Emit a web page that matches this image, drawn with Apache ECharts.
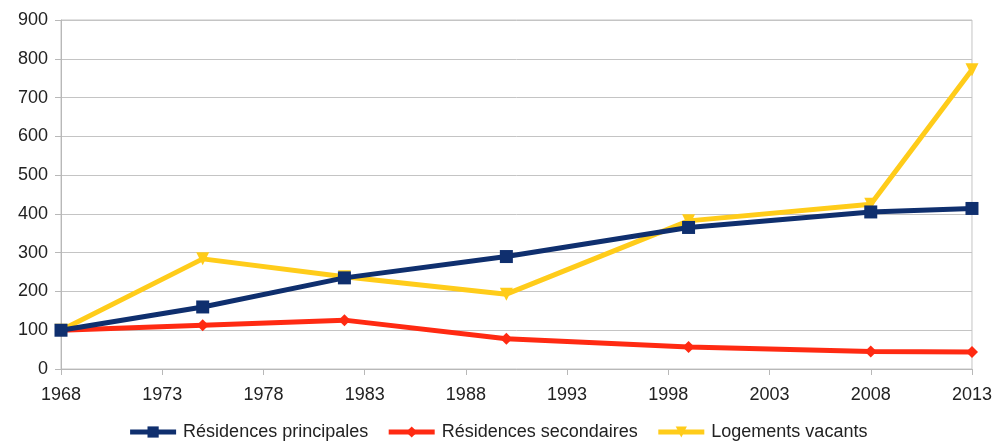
<!DOCTYPE html>
<html>
<head>
<meta charset="utf-8">
<script src="https://cdn.jsdelivr.net/npm/echarts@6/dist/echarts.min.js"></script>
<style>
  html, body { margin: 0; padding: 0; background: #fff; }
  #chart { width: 995px; height: 442px; }
</style>
</head>
<body>
<div id="chart"></div>
<script>
// Census years and housing indices (base 100 in 1968)
const years = [1968, 1975, 1982, 1990, 1999, 2008, 2013];
const principales = [100, 160, 235, 290, 365, 405, 414];
const secondaires = [100, 113, 126, 78, 57, 45, 44];
const vacants = [100, 284, 238, 193, 382, 425, 772];

const seriesNames = ['Résidences principales', 'Résidences secondaires', 'Logements vacants'];
const colors = ['#0f2f6e', '#ff2a12', '#ffcc1a'];

const pair = (vals) => years.map((y, i) => [y, vals[i]]);

const chart = echarts.init(document.getElementById('chart'), null, { renderer: 'canvas' });
const font = 'Liberation Sans, Arial, sans-serif';

chart.setOption({
  animation: false,
  color: colors,
  grid: {
    left: 61, right: 23, top: 20, bottom: 73,
    show: true, borderColor: '#c4c4c4', borderWidth: 1
  },
  legend: {
    top: 418,
    left: 'center',
    itemWidth: 46,
    itemHeight: 14,
    itemGap: 18,
    lineStyle: { width: 5 },
    textStyle: { fontFamily: font, fontSize: 18, color: '#222', padding: [0, 0, 0, 2] },
    data: seriesNames
  },
  xAxis: {
    type: 'value',
    min: 1968, max: 2013, interval: 5,
    axisLine: { lineStyle: { color: '#b8b8b8', width: 1 } },
    axisTick: { show: true, length: 6, lineStyle: { color: '#b8b8b8' } },
    splitLine: { show: false },
    axisLabel: {
      formatter: (v) => String(v),
      fontFamily: font, fontSize: 18, color: '#222', margin: 17
    }
  },
  yAxis: {
    type: 'value',
    min: 0, max: 900, interval: 100,
    axisLine: { show: true, lineStyle: { color: '#b8b8b8' } },
    axisTick: { show: true, length: 6, lineStyle: { color: '#b8b8b8' } },
    splitLine: { lineStyle: { color: '#c4c4c4', width: 1 } },
    axisLabel: { fontFamily: font, fontSize: 18, color: '#222', margin: 13 }
  },
  series: [
    {
      name: seriesNames[0], type: 'line', data: pair(principales),
      symbol: 'rect', symbolSize: 13,
      lineStyle: { width: 5 }, z: 4
    },
    {
      name: seriesNames[1], type: 'line', data: pair(secondaires),
      symbol: 'diamond', symbolSize: 12,
      lineStyle: { width: 5 }, z: 3
    },
    {
      name: seriesNames[2], type: 'line', data: pair(vacants),
      symbol: 'triangle', symbolRotate: 180, symbolSize: 13,
      lineStyle: { width: 5 }, z: 2
    }
  ]
});
</script>
</body>
</html>
